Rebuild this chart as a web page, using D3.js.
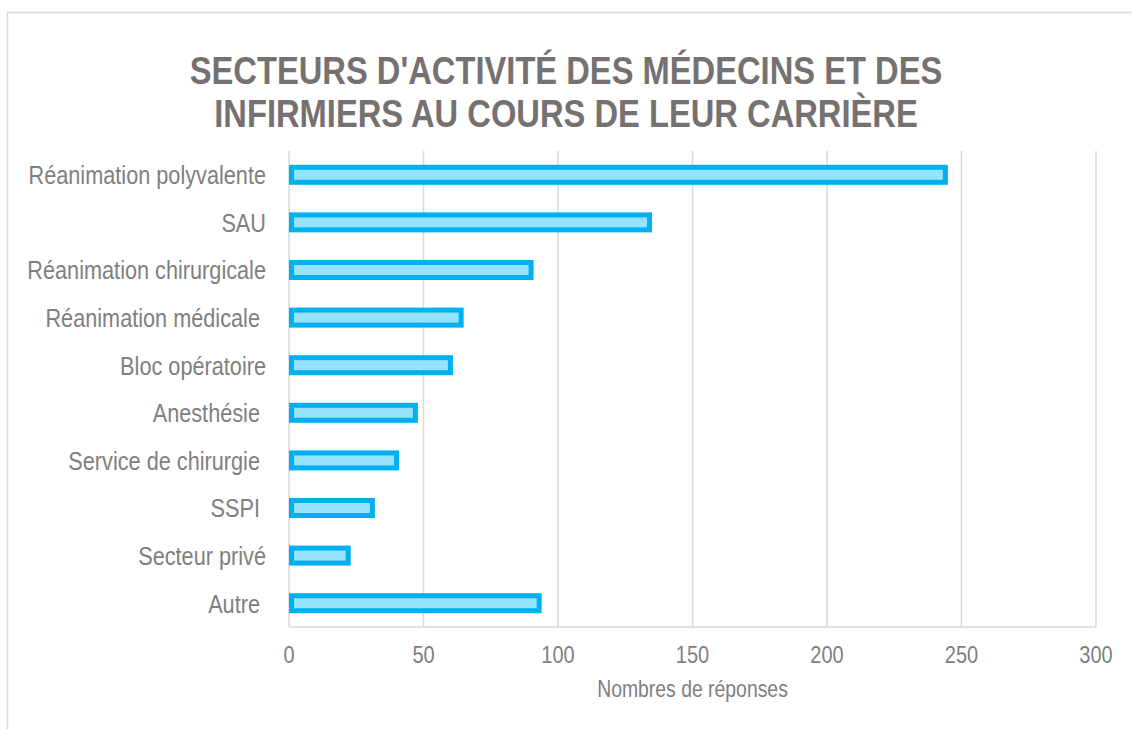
<!DOCTYPE html>
<html>
<head>
<meta charset="utf-8" />
<title>Secteurs d'activité des médecins et des infirmiers</title>
<style>
body {
    margin: 0;
    background: #fff;
}
text {
    font-family: "Liberation Sans", Arial, sans-serif;
    white-space: pre;
}
</style>
</head>
<body>
<div id="chart"></div>
<script src="https://cdnjs.cloudflare.com/ajax/libs/d3/7.8.5/d3.min.js"></script>
<script>
var categories = ["Réanimation polyvalente", "SAU", "Réanimation chirurgicale", "Réanimation médicale ",
    "Bloc opératoire", "Anesthésie ", "Service de chirurgie ", "SSPI ", "Secteur privé", "Autre "]
var values = [244, 134, 90, 64, 60, 47, 40, 31, 22, 93]
var ticks = [0, 50, 100, 150, 200, 250, 300]
var titleLines = ["SECTEURS D'ACTIVITÉ DES MÉDECINS ET DES", "INFIRMIERS AU COURS DE LEUR CARRIÈRE"]
var axisTitle = "Nombres de réponses"

!(function(){
    "use strict"

    var width = 1132, height = 729
    var margin = {top: 151, left: 289, right: 36, bottom: 102}
    var sy = 1.2   // text in the picture is a bit taller than wide

    var svg = d3.select("#chart").append("svg")
        .attr("width", width)
        .attr("height", height)

    // outer frame
    svg.append("rect")
        .attr("x", 7.5).attr("y", 12.5)
        .attr("width", width + 20).attr("height", height + 20)
        .attr("fill", "none")
        .attr("stroke", "#d9d9d9")
        .attr("stroke-width", 1.5)

    var x = d3.scaleLinear().domain([0, 300]).range([margin.left, width - margin.right])
    var y = d3.scaleBand().domain(categories)
        .range([margin.top, height - margin.bottom])
        .paddingInner(0.685)
        .paddingOuter(0.3425)

    function label(g, px, py, txt, size, anchor, color, weight) {
        g.append("g")
            .attr("transform", "translate(" + px + "," + py + ") scale(1," + sy + ")")
            .append("text")
            .attr("text-anchor", anchor)
            .attr("font-size", size)
            .attr("font-weight", weight || "normal")
            .attr("fill", color)
            .text(txt)
    }

    // title
    var title = svg.append("g")
    label(title, 566, 84, titleLines[0], 32.7, "middle", "#757171", "bold")
    label(title, 566, 127, titleLines[1], 32.7, "middle", "#757171", "bold")

    // grid lines
    svg.append("g").selectAll("line")
        .data(ticks)
        .enter().append("line")
        .attr("x1", function(d){ return x(d) })
        .attr("x2", function(d){ return x(d) })
        .attr("y1", margin.top)
        .attr("y2", height - margin.bottom)
        .attr("stroke", "#d9d9d9")
        .attr("stroke-width", 1.5)

    svg.append("line")
        .attr("x1", x(0)).attr("x2", x(300))
        .attr("y1", height - margin.bottom).attr("y2", height - margin.bottom)
        .attr("stroke", "#d9d9d9")
        .attr("stroke-width", 1.5)

    // bars
    var bw = 5
    svg.append("g").selectAll("rect")
        .data(values)
        .enter().append("rect")
        .attr("x", x(0) + bw / 2)
        .attr("y", function(d, i){ return y(categories[i]) })
        .attr("width", function(d){ return x(d) - x(0) - bw / 2 })
        .attr("height", y.bandwidth())
        .attr("fill", "#95e3fe")
        .attr("stroke", "#00b0f0")
        .attr("stroke-width", bw)

    // category labels
    var cats = svg.append("g")
    categories.forEach(function(c) {
        label(cats, 266, y(c) + y.bandwidth() / 2 + 9.3, c, 21.7, "end", "#7f7f7f")
    })

    // tick labels
    var tk = svg.append("g")
    ticks.forEach(function(t) {
        label(tk, x(t), 663, String(t), 20, "middle", "#7f7f7f")
    })

    label(svg, x(150), 697, axisTitle, 19.4, "middle", "#7f7f7f")
}());
</script>
</body>
</html>
